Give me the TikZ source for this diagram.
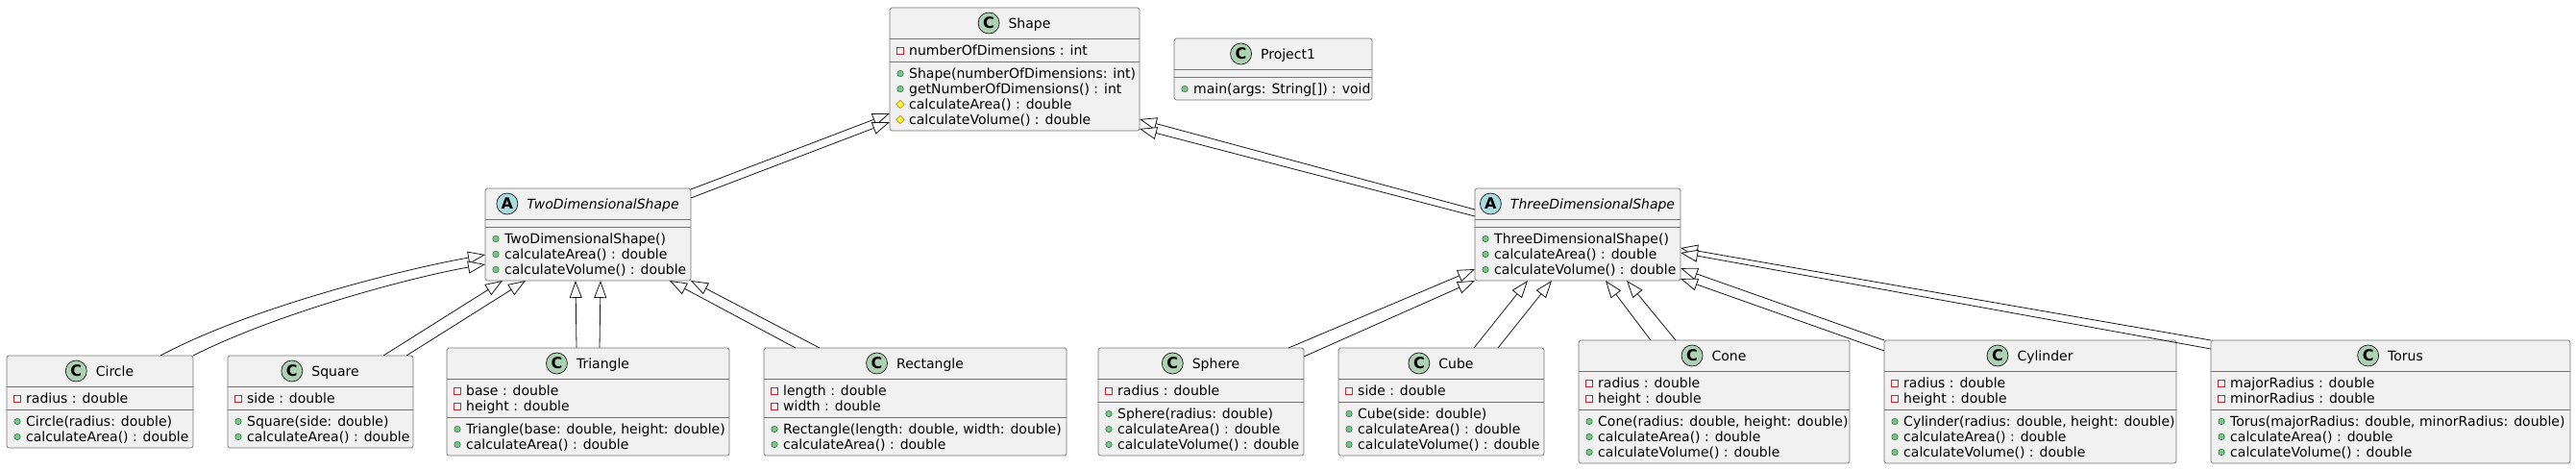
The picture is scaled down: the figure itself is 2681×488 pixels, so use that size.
\documentclass[tikz,border=0pt]{standalone}
\usepackage{fontspec}
\setmainfont{DejaVu Sans}
\usetikzlibrary{arrows.meta,shapes.geometric,calc}
\definecolor{boxfill}{HTML}{F1F1F1}
\definecolor{boxline}{HTML}{181818}
\definecolor{cfill}{HTML}{ADD1B2}
\definecolor{afill}{HTML}{A9DCDF}
\definecolor{privc}{HTML}{C82930}
\definecolor{pubf}{HTML}{84BE84}
\definecolor{pubd}{HTML}{038048}
\definecolor{protf}{HTML}{FFFF44}
\definecolor{protd}{HTML}{B38D22}
\newcommand\umlbox[7]{%
  \node[classbox, minimum width={(#4)-(#2)}, minimum height={(#5)-(#3)}] (#1) at (#2,#3) {};
  \draw[sepline] (#2,#6) -- (#4,#6);
  \draw[sepline] (#2,#7) -- (#4,#7);
}
\newcommand\umlhead[7]{%
  \node[htext] (#1) at ({(#4+#5)/2+15.5},#6+21) {#7};
  \node[#3] (#1i) at ($(#1.base west)+(-9,-5)$) {#2};
}
\newcommand\mrow[5]{%
  \node[mtext] (#1) at (#3+20,#4) {#5};
  \node[#2] (#1i) at (#3+11,#4-4.5) {};
}
\begin{document}
\begin{tikzpicture}[x=1pt,y=-1pt,
  classbox/.style={draw=boxline!60, line width=0.7pt, fill=boxfill, rounded corners=2.5pt, anchor=north west, inner sep=0, outer sep=0},
  sepline/.style={draw=boxline!60, line width=0.7pt},
  mtext/.style={font=\fontsize{14}{16}\selectfont, inner sep=0, anchor=base west},
  htext/.style={font=\fontsize{14}{16}\selectfont, inner sep=0, anchor=base},
  cicon/.style={circle, draw=boxline, line width=0.7pt, fill=cfill, minimum size=22pt, inner sep=0, anchor=east, font=\fontsize{16}{16}\selectfont\bfseries},
  aicon/.style={cicon, fill=afill},
  privicon/.style={rectangle, draw=privc, line width=0.7pt, minimum size=7pt, inner sep=0},
  pubicon/.style={circle, draw=pubd, line width=0.5pt, fill=pubf, minimum size=6.5pt, inner sep=0},
  proticon/.style={diamond, draw=protd, line width=0.6pt, fill=protf, minimum size=8.5pt, inner sep=0},
  ext/.style={draw=boxline, line width=0.8pt, -{Triangle[open, fill=white, length=18pt, width=13pt]}}
]
\useasboundingbox (0,0) rectangle (2681,488);
\fill[white] (0,0) rectangle (2681,488);

% boxes
\umlbox{shape}{926}{8}{1186}{136}{40}{64}
\umlbox{proj}{1222}{40}{1428}{104}{72}{80}
\umlbox{two}{505}{196}{719}{292}{228}{236}
\umlbox{three}{1535}{196}{1749}{292}{228}{236}
\umlbox{circle}{7}{370}{201}{466}{402}{426}
\umlbox{square}{237}{370}{430}{466}{402}{426}
\umlbox{tri}{465}{362}{759}{474}{394}{434}
\umlbox{rect}{795}{362}{1110}{474}{394}{434}
\umlbox{sphere}{1143}{362}{1357}{474}{394}{418}
\umlbox{cube}{1393}{362}{1607}{474}{394}{418}
\umlbox{cone}{1643}{354}{1925}{482}{386}{426}
\umlbox{cyl}{1961}{354}{2265}{482}{386}{426}
\umlbox{torus}{2301}{354}{2675}{482}{386}{426}

% headers
\umlhead{shapeT}{C}{cicon}{926}{1186}{8}{Shape}
\umlhead{projT}{C}{cicon}{1222}{1428}{40}{Project1}
\umlhead{twoT}{A}{aicon}{505}{719}{196}{\itshape TwoDimensionalShape}
\umlhead{threeT}{A}{aicon}{1535}{1749}{196}{\itshape ThreeDimensionalShape}
\umlhead{circleT}{C}{cicon}{7}{201}{370}{Circle}
\umlhead{squareT}{C}{cicon}{237}{430}{370}{Square}
\umlhead{triT}{C}{cicon}{465}{759}{362}{Triangle}
\umlhead{rectT}{C}{cicon}{795}{1110}{362}{Rectangle}
\umlhead{sphereT}{C}{cicon}{1143}{1357}{362}{Sphere}
\umlhead{cubeT}{C}{cicon}{1393}{1607}{362}{Cube}
\umlhead{coneT}{C}{cicon}{1643}{1925}{354}{Cone}
\umlhead{cylT}{C}{cicon}{1961}{2265}{354}{Cylinder}
\umlhead{torusT}{C}{cicon}{2301}{2675}{354}{Torus}

% members
\mrow{shapeA}{privicon}{926}{57}{numberOfDimensions : int}
\mrow{shapeM1}{pubicon}{926}{81}{Shape(numberOfDimensions: int)}
\mrow{shapeM2}{pubicon}{926}{97}{getNumberOfDimensions() : int}
\mrow{shapeM3}{proticon}{926}{113}{calculateArea() : double}
\mrow{shapeM4}{proticon}{926}{129}{calculateVolume() : double}

\mrow{projM1}{pubicon}{1222}{97}{main(args: String[]) : void}

\mrow{twoM1}{pubicon}{505}{253}{TwoDimensionalShape()}
\mrow{twoM2}{pubicon}{505}{269}{calculateArea() : double}
\mrow{twoM3}{pubicon}{505}{285}{calculateVolume() : double}

\mrow{threeM1}{pubicon}{1535}{253}{ThreeDimensionalShape()}
\mrow{threeM2}{pubicon}{1535}{269}{calculateArea() : double}
\mrow{threeM3}{pubicon}{1535}{285}{calculateVolume() : double}

\mrow{circleA}{privicon}{7}{419}{radius : double}
\mrow{circleM1}{pubicon}{7}{443}{Circle(radius: double)}
\mrow{circleM2}{pubicon}{7}{459}{calculateArea() : double}

\mrow{squareA}{privicon}{237}{419}{side : double}
\mrow{squareM1}{pubicon}{237}{443}{Square(side: double)}
\mrow{squareM2}{pubicon}{237}{459}{calculateArea() : double}

\mrow{triA1}{privicon}{465}{411}{base : double}
\mrow{triA2}{privicon}{465}{427}{height : double}
\mrow{triM1}{pubicon}{465}{451}{Triangle(base: double, height: double)}
\mrow{triM2}{pubicon}{465}{467}{calculateArea() : double}

\mrow{rectA1}{privicon}{795}{411}{length : double}
\mrow{rectA2}{privicon}{795}{427}{width : double}
\mrow{rectM1}{pubicon}{795}{451}{Rectangle(length: double, width: double)}
\mrow{rectM2}{pubicon}{795}{467}{calculateArea() : double}

\mrow{sphereA}{privicon}{1143}{411}{radius : double}
\mrow{sphereM1}{pubicon}{1143}{435}{Sphere(radius: double)}
\mrow{sphereM2}{pubicon}{1143}{451}{calculateArea() : double}
\mrow{sphereM3}{pubicon}{1143}{467}{calculateVolume() : double}

\mrow{cubeA}{privicon}{1393}{411}{side : double}
\mrow{cubeM1}{pubicon}{1393}{435}{Cube(side: double)}
\mrow{cubeM2}{pubicon}{1393}{451}{calculateArea() : double}
\mrow{cubeM3}{pubicon}{1393}{467}{calculateVolume() : double}

\mrow{coneA1}{privicon}{1643}{403}{radius : double}
\mrow{coneA2}{privicon}{1643}{419}{height : double}
\mrow{coneM1}{pubicon}{1643}{443}{Cone(radius: double, height: double)}
\mrow{coneM2}{pubicon}{1643}{459}{calculateArea() : double}
\mrow{coneM3}{pubicon}{1643}{475}{calculateVolume() : double}

\mrow{cylA1}{privicon}{1961}{403}{radius : double}
\mrow{cylA2}{privicon}{1961}{419}{height : double}
\mrow{cylM1}{pubicon}{1961}{443}{Cylinder(radius: double, height: double)}
\mrow{cylM2}{pubicon}{1961}{459}{calculateArea() : double}
\mrow{cylM3}{pubicon}{1961}{475}{calculateVolume() : double}

\mrow{torusA1}{privicon}{2301}{403}{majorRadius : double}
\mrow{torusA2}{privicon}{2301}{419}{minorRadius : double}
\mrow{torusM1}{pubicon}{2301}{443}{Torus(majorRadius: double, minorRadius: double)}
\mrow{torusM2}{pubicon}{2301}{459}{calculateArea() : double}
\mrow{torusM3}{pubicon}{2301}{475}{calculateVolume() : double}

% inheritance connectors (each drawn twice, as in the source)
\draw[ext] ($(two.north east)+(0,1)$) -- ($(shape.north west)+(0,110)$);
\draw[ext] ($(two.north east)+(0,10)$) -- ($(shape.north west)+(0,119)$);
\draw[ext] ($(three.north west)+(0,22)$) -- ($(shape.north east)+(0,116)$);
\draw[ext] ($(three.north west)+(0,29)$) -- ($(shape.north east)+(0,126)$);

\draw[ext] ($(circle.north west)+(160,0)$) .. controls (260,320) and (420,280) .. ($(two.north west)+(0,69)$);
\draw[ext] (circle.north east) .. controls (290,325) and (430,288) .. ($(two.north west)+(0,79)$);
\draw[ext] ($(square.north west)+(162,0)$) -- ($(two.south west)+(18,0)$);
\draw[ext] ($(square.north west)+(186,0)$) -- ($(two.south west)+(42,0)$);
\draw[ext] ($(tri.north west)+(135,0)$) -- ($(two.south west)+(94,0)$);
\draw[ext] ($(tri.north west)+(159,0)$) -- ($(two.south west)+(120,0)$);
\draw[ext] ($(rect.north west)+(33,0)$) -- ($(two.south west)+(192,0)$);
\draw[ext] ($(rect.north west)+(58,0)$) -- (two.south east);

\draw[ext] ($(sphere.north west)+(198,0)$) -- ($(three.north west)+(0,84)$);
\draw[ext] ($(sphere.north east)+(0,9)$) -- (three.south west);
\draw[ext] ($(cube.north west)+(141,0)$) -- ($(three.south west)+(55,0)$);
\draw[ext] ($(cube.north west)+(166,0)$) -- ($(three.south west)+(80,0)$);
\draw[ext] ($(cone.north west)+(75,0)$) -- ($(three.south west)+(136,0)$);
\draw[ext] ($(cone.north west)+(101,0)$) -- ($(three.south west)+(158,0)$);
\draw[ext] (cyl.north west) -- ($(three.north east)+(0,83)$);
\draw[ext] ($(cyl.north west)+(0,11)$) -- ($(three.north east)+(0,94)$);
\draw[ext] (torus.north west) -- ($(three.north east)+(0,62)$);
\draw[ext] ($(torus.north west)+(0,9)$) -- ($(three.north east)+(0,67)$);
\end{tikzpicture}
\end{document}
